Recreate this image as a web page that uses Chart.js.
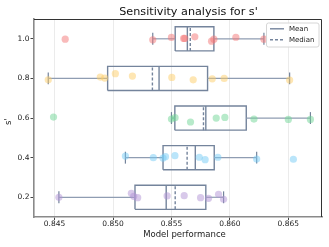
<!DOCTYPE html>
<html>
<head>
<meta charset="utf-8">
<script src="https://cdn.jsdelivr.net/npm/chart.js@4.4.0/dist/chart.umd.min.js"></script>
<style>
  html, body { margin: 0; padding: 0; background: #fff; }
  #wrap { width: 329px; height: 247px; }
</style>
</head>
<body>
<div id="wrap"><canvas id="chart" width="329" height="247"></canvas></div>
<script>
// s' values (one box per row)
const sValues = [1.0, 0.8, 0.6, 0.4, 0.2];
const xTicks = [0.845, 0.850, 0.855, 0.860, 0.865];
const yTicks = [0.2, 0.4, 0.6, 0.8, 1.0];

// box statistics per row
const q1 = [0.85532, 0.84954, 0.85529, 0.85428, 0.85188];
const q3 = [0.85863, 0.85809, 0.86140, 0.85866, 0.85794];
const whiskerLow = [0.85340, 0.84446, 0.85500, 0.85106, 0.84537];
const whiskerHigh = [0.86291, 0.86511, 0.86689, 0.86229, 0.85946];
const means = [0.85636, 0.85394, 0.85794, 0.85704, 0.85455];
const medians = [0.85661, 0.85337, 0.85774, 0.85634, 0.85532];

// individual runs (x = performance, y = s' with the plot's jitter)
const pointX = [
  [0.84591, 0.85340, 0.85500, 0.85604, 0.85614, 0.85700, 0.85843, 0.85863, 0.86051, 0.86291],
  [0.84446, 0.84891, 0.84929, 0.85020, 0.85166, 0.85503, 0.85686, 0.85849, 0.85951, 0.86511],
  [0.84491, 0.85500, 0.85531, 0.85663, 0.85883, 0.85957, 0.86206, 0.86500, 0.86689],
  [0.85106, 0.85345, 0.85428, 0.85449, 0.85530, 0.85738, 0.85788, 0.85897, 0.86229, 0.86543],
  [0.84537, 0.85157, 0.85177, 0.85211, 0.85463, 0.85609, 0.85749, 0.85817, 0.85903, 0.85946]
];
const pointY = [
  [0.998, 0.995, 1.007, 1.002, 1.002, 1.010, 0.988, 0.998, 1.008, 0.998],
  [0.793, 0.807, 0.802, 0.824, 0.812, 0.805, 0.793, 0.798, 0.800, 0.792],
  [0.605, 0.595, 0.602, 0.580, 0.600, 0.603, 0.595, 0.593, 0.593],
  [0.408, 0.400, 0.398, 0.405, 0.410, 0.402, 0.390, 0.402, 0.393, 0.392],
  [0.200, 0.220, 0.205, 0.198, 0.207, 0.208, 0.198, 0.195, 0.215, 0.190]
];

const rowColors = [
  'rgba(243, 118, 118, 0.5)',
  'rgba(253, 206, 104, 0.5)',
  'rgba(112, 214, 150, 0.5)',
  'rgba(118, 204, 245, 0.5)',
  'rgba(178, 148, 214, 0.5)'
];

const boxColor = '#74849c';
const whiskerColor = '#8f9db2';
const boxHalf = 0.061;
const capHalf = 0.03;
const FONT = "'DejaVu Sans', sans-serif";

function seg(points, color, width, dash) {
  return {
    type: 'scatter',
    data: points,
    showLine: true,
    borderColor: color,
    borderWidth: width,
    borderDash: dash || [],
    pointRadius: 0,
    pointHoverRadius: 0,
    fill: false,
    order: 2
  };
}

const datasets = [];
sValues.forEach((s, i) => {
  // the strip of runs, drawn on top
  datasets.push({
    type: 'scatter',
    data: pointX[i].map((x, j) => ({ x: x, y: pointY[i][j] })),
    backgroundColor: rowColors[i],
    borderWidth: 0,
    pointRadius: 3.6,
    order: 0
  });
  // whiskers and caps
  datasets.push(seg([{ x: whiskerLow[i], y: s }, { x: q1[i], y: s }], whiskerColor, 1.2));
  datasets.push(seg([{ x: q3[i], y: s }, { x: whiskerHigh[i], y: s }], whiskerColor, 1.2));
  datasets.push(seg([{ x: whiskerLow[i], y: s - capHalf }, { x: whiskerLow[i], y: s + capHalf }], boxColor, 1.2));
  datasets.push(seg([{ x: whiskerHigh[i], y: s - capHalf }, { x: whiskerHigh[i], y: s + capHalf }], boxColor, 1.2));
  // box outline
  datasets.push(seg([
    { x: q1[i], y: s - boxHalf }, { x: q3[i], y: s - boxHalf },
    { x: q3[i], y: s + boxHalf }, { x: q1[i], y: s + boxHalf },
    { x: q1[i], y: s - boxHalf }
  ], boxColor, 1.4));
  // mean (solid) and median (dashed)
  datasets.push(seg([{ x: means[i], y: s - boxHalf }, { x: means[i], y: s + boxHalf }], boxColor, 1.4));
  datasets.push(seg([{ x: medians[i], y: s - boxHalf }, { x: medians[i], y: s + boxHalf }], boxColor, 1.4, [3, 2]));
});

// title, axis labels, legend and the top/right spines
const decorations = {
  id: 'decorations',
  afterDraw(chart) {
    const ctx = chart.ctx;
    const a = chart.chartArea;
    ctx.save();

    ctx.strokeStyle = '#333';
    ctx.lineWidth = 1;
    ctx.beginPath();
    ctx.moveTo(a.left, a.top + 0.5);
    ctx.lineTo(a.right - 0.5, a.top + 0.5);
    ctx.lineTo(a.right - 0.5, a.bottom);
    ctx.stroke();

    ctx.fillStyle = '#111';
    ctx.textAlign = 'center';
    ctx.textBaseline = 'middle';
    ctx.font = '11.2px ' + FONT;
    ctx.fillText("Sensitivity analysis for s'", 188.5, 12.5);

    ctx.font = '8.5px ' + FONT;
    ctx.fillStyle = '#222';
    ctx.fillText('Model performance', 184.5, 235);

    ctx.save();
    ctx.translate(8.5, 121.5);
    ctx.rotate(-Math.PI / 2);
    ctx.fillText("s'", 0, 0);
    ctx.restore();

    // legend box
    const lx = 266, ly = 22.5, lw = 52.5, lh = 24;
    ctx.fillStyle = 'rgba(255,255,255,0.85)';
    ctx.strokeStyle = '#d6d6d6';
    ctx.lineWidth = 1;
    ctx.beginPath();
    ctx.roundRect(lx + 0.5, ly + 0.5, lw, lh, 2);
    ctx.fill();
    ctx.stroke();

    ctx.strokeStyle = boxColor;
    ctx.lineWidth = 1.4;
    ctx.beginPath();
    ctx.moveTo(270, 28.8);
    ctx.lineTo(284, 28.8);
    ctx.stroke();
    ctx.setLineDash([3, 2]);
    ctx.beginPath();
    ctx.moveTo(270, 39.8);
    ctx.lineTo(284, 39.8);
    ctx.stroke();
    ctx.setLineDash([]);

    ctx.fillStyle = '#222';
    ctx.font = '7px ' + FONT;
    ctx.textAlign = 'left';
    ctx.fillText('Mean', 289, 28.8);
    ctx.fillText('Median', 289, 39.8);
    ctx.restore();
  }
};

new Chart(document.getElementById('chart'), {
  type: 'scatter',
  data: { datasets: datasets },
  options: {
    responsive: false,
    animation: false,
    events: [],
    layout: { padding: { top: 19, right: 7, left: 0, bottom: 0 } },
    plugins: {
      legend: { display: false },
      tooltip: { enabled: false },
      title: { display: false }
    },
    scales: {
      x: {
        type: 'linear',
        min: 0.84324,
        max: 0.86788,
        afterFit: (scale) => { scale.height = 30; },
        afterBuildTicks: (scale) => { scale.ticks = xTicks.map(v => ({ value: v })); },
        ticks: {
          callback: (v) => Number(v).toFixed(3),
          font: { family: FONT, size: 7.5 },
          color: '#222',
          padding: 0,
          maxRotation: 0
        },
        grid: { color: '#ebebeb', lineWidth: 1, tickColor: '#444', tickLength: 3 },
        border: { color: '#8a8a8a', width: 1.6 }
      },
      y: {
        type: 'linear',
        min: 0.1005,
        max: 1.1,
        afterFit: (scale) => { scale.width = 34; },
        afterBuildTicks: (scale) => { scale.ticks = yTicks.map(v => ({ value: v })); },
        ticks: {
          callback: (v) => Number(v).toFixed(1),
          font: { family: FONT, size: 7.5 },
          color: '#222',
          padding: 1
        },
        grid: { drawOnChartArea: false, tickColor: '#444', tickLength: 3.5 },
        border: { color: '#8a8a8a', width: 1.6 }
      }
    }
  },
  plugins: [decorations]
});
</script>
</body>
</html>
